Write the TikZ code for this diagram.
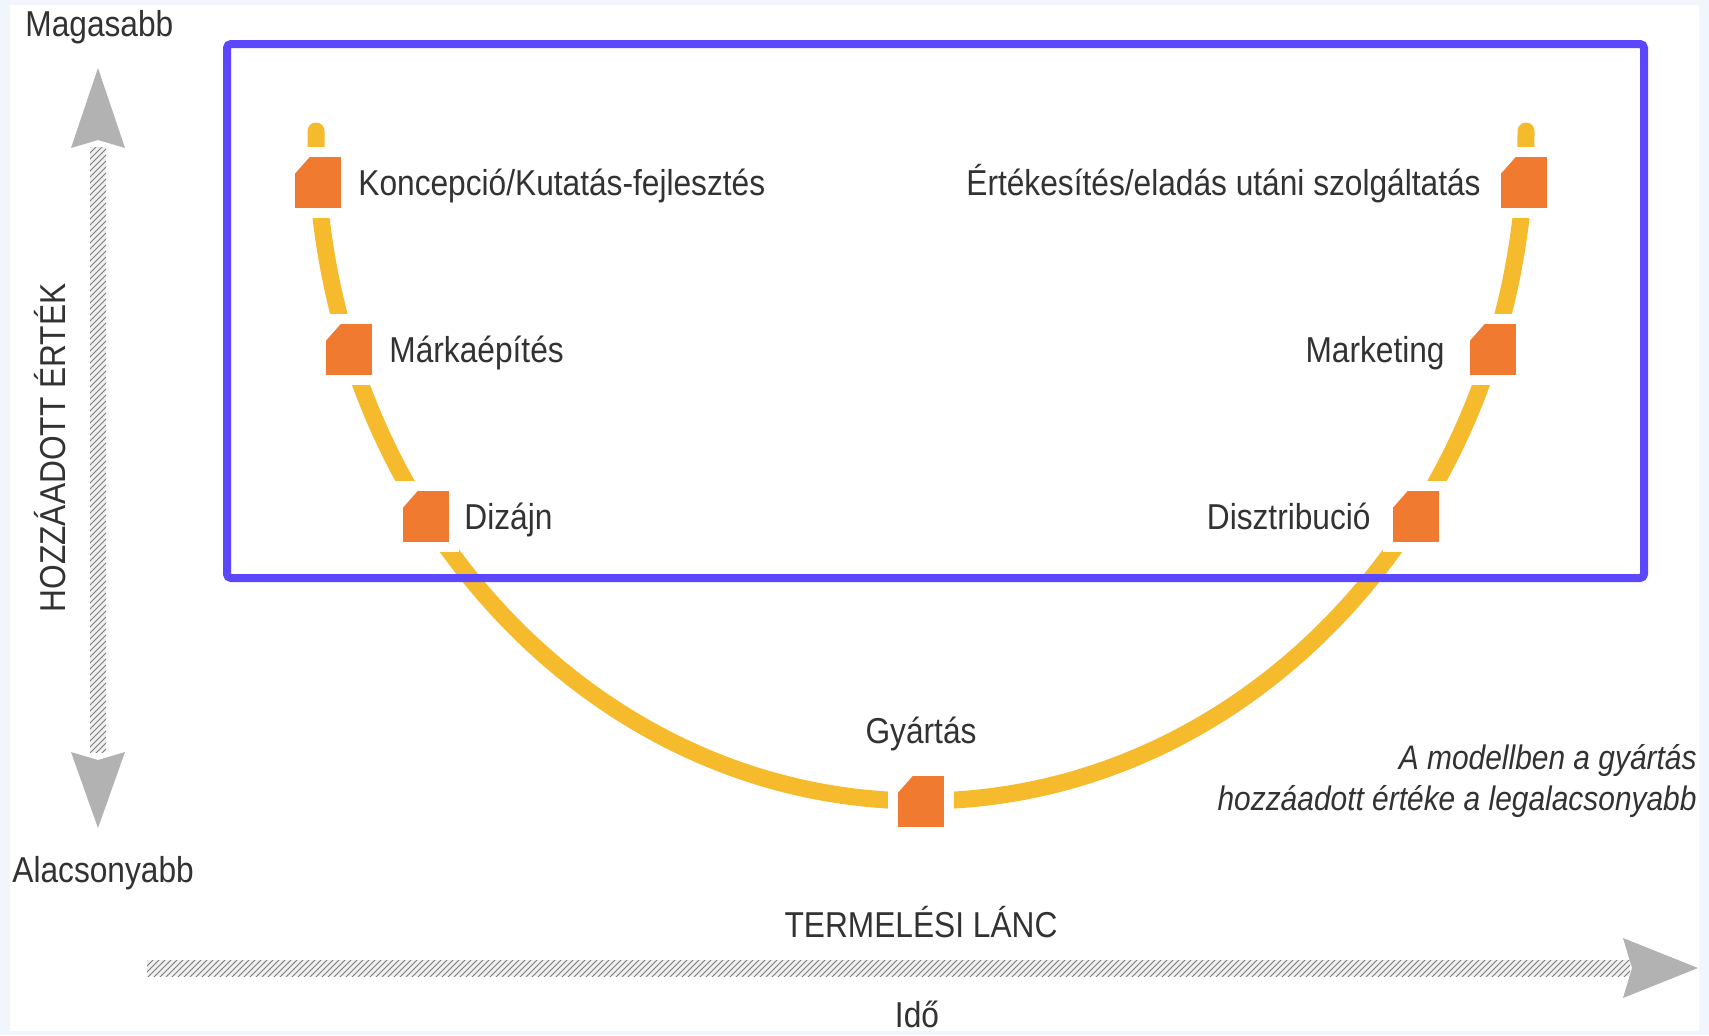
\documentclass[tikz,border=0pt]{standalone}
\usepackage{fontspec}
\setmainfont{Liberation Sans}[FakeStretch=0.88]
\usetikzlibrary{positioning,patterns}
\definecolor{curveyellow}{RGB}{246,186,45}
\definecolor{stageorange}{RGB}{240,122,48}
\definecolor{frameblue}{RGB}{92,70,255}
\definecolor{textgray}{RGB}{50,50,50}
\definecolor{axisgray}{RGB}{178,178,178}
\definecolor{edgeblue}{RGB}{240,246,252}
\begin{document}
\begin{tikzpicture}[x=0.5pt, y=-0.5pt,
    every node/.style={text=textgray, inner sep=0pt, font=\fontsize{18}{21}\selectfont},
    stage/.style={rectangle, fill=stageorange, draw=white, line width=5pt,
        minimum width=28pt, minimum height=30.5pt,
        path picture={\fill[white] (path picture bounding box.north west)
            -- ++(12.2pt,0pt) -- ++(-12.2pt,-13.8pt) -- cycle;}},
    lbl/.style={text height=13pt, text depth=0pt},
    curve/.style={draw=curveyellow, line width=8.5pt, line cap=round},
    hatch/.style={pattern=north east lines, pattern color=axisgray!70!black},
    head/.style={fill=axisgray}]
    % background
    \fill[edgeblue] (0,0) rectangle (1709,1035);
    \fill[white] (10,5) rectangle (1699,1031);
    \useasboundingbox (0,0) rectangle (1709,1035);
    % axes
    \coordinate (ytop) at (98,68);
    \coordinate (ybot) at (98,828);
    \coordinate (xend) at (1698,968);
    \fill[gray!12] (90,147) rectangle (106,752);
    \fill[hatch] (90,147) rectangle (106,752);
    \fill[head] (ytop) -- (125,148) -- (98,140) -- (71,148) -- cycle;
    \fill[head] (ybot) -- (125,752) -- (98,760) -- (71,752) -- cycle;
    \fill[gray!12] (147,960) rectangle (1630,976);
    \fill[hatch] (147,960) rectangle (1630,976);
    \fill[head] (xend) -- (1623,938) -- (1632,968) -- (1623,998) -- cycle;
    \node[anchor=base west] (high) at (25,36) {Magasabb};
    \node[anchor=base west] (low) at (12,882) {Alacsonyabb};
    \node[anchor=base, rotate=90] (value) at (65,448) {HOZZÁADOTT ÉRTÉK};
    \node[anchor=base] (chain) at (921,937) {TERMELÉSI LÁNC};
    \node[anchor=base] (time) at (917,1027) {Idő};
    % smile curve
    \coordinate (ustart) at (316,131);
    \coordinate (ubottom) at (921,801);
    \coordinate (uend) at (1526,131);
    \draw[curve] (ustart) .. controls (316,501) and (587,801) .. (ubottom)
        .. controls (1255,801) and (1526,501) .. (uend);
    % stages
    \node[stage] (konc) at (318,182) {};
    \node[stage] (brand) at (349,349) {};
    \node[stage] (dizajn) at (426,516) {};
    \node[stage] (gyart) at (921,801) {};
    \node[stage] (disztr) at (1416,516) {};
    \node[stage] (mkt) at (1493,349) {};
    \node[stage] (ertek) at (1524,182) {};
    \node[lbl, right=3.5pt of konc] (konclbl) {Koncepció/Kutatás-fejlesztés};
    \node[lbl, right=3.5pt of brand] (brandlbl) {Márkaépítés};
    \node[lbl, right=2.5pt of dizajn] (dizajnlbl) {Dizájn};
    \node[text depth=0pt, anchor=base, above=11pt of gyart] (gyartlbl) {Gyártás};
    \node[lbl, left=6pt of disztr] (disztrlbl) {Disztribució};
    \node[lbl, left=7.5pt of mkt] (mktlbl) {Marketing};
    \node[lbl, left=5pt of ertek] (ertlbl) {Értékesítés/eladás utáni szolgáltatás};
    % note
    \node[anchor=base east, font=\fontsize{17}{20}\selectfont\itshape] (note1) at (1697,769) {A modellben a gyártás};
    \node[anchor=base east, font=\fontsize{17}{20}\selectfont\itshape] (note2) at (1697,810) {hozzáadott értéke a legalacsonyabb};
    % frame
    \draw[frameblue, line width=4pt, rounded corners=2pt] (227,44) rectangle (1644,578);
\end{tikzpicture}
\end{document}
